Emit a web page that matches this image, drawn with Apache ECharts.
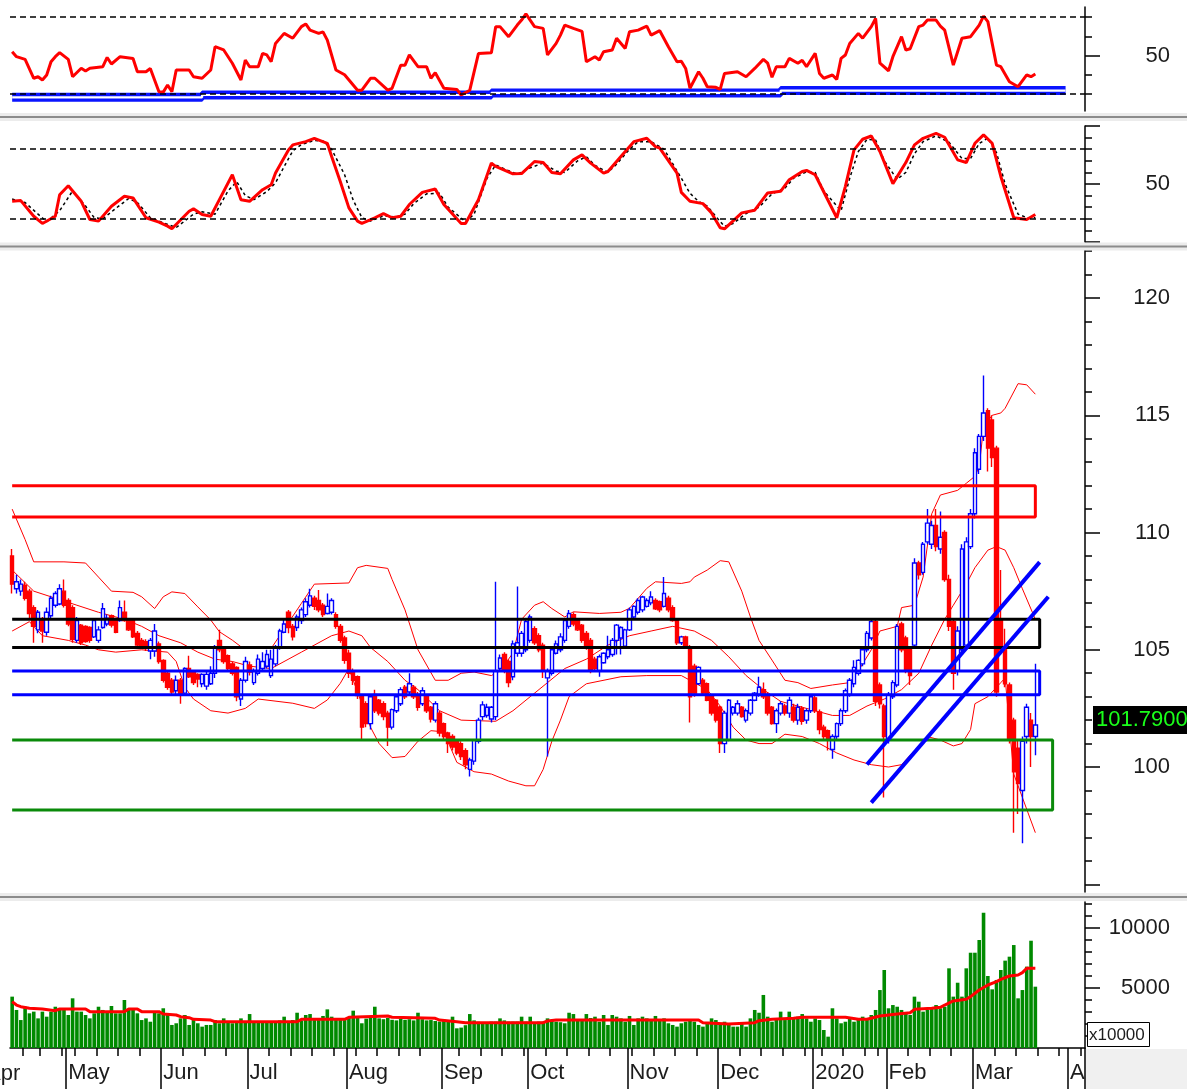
<!DOCTYPE html>
<html><head><meta charset="utf-8">
<script src="https://cdn.jsdelivr.net/npm/echarts@6/dist/echarts.min.js"></script>
<style>html,body{margin:0;padding:0;background:#fff;overflow:hidden}#c{width:1187px;height:1089px}</style>
</head><body><div id="c"></div>
<script>
// ---------- categories (trading days) ----------
const firstDay = '2019-04-10', lastDay = '2020-04-06';
const holidays = ['2019-04-15','2019-04-30','2019-05-01','2019-09-02','2020-01-01','2020-01-23','2020-01-24','2020-01-27','2020-01-28','2020-01-29'];
const monthNames = ['2020','Feb','Mar','Apr','May','Jun','Jul','Aug','Sep','Oct','Nov','Dec'];

// ---------- price candles [open, close, low, high] ----------
const candles = [
[109.0,107.8,107.4,109.3],[107.6,107.9,107.4,108.2],[107.5,107.8,107.3,108.0],[107.75,107.2,107.1,107.9],[107.5,106.55,106.3,107.6],
[106.8,106.0,105.3,106.9],[105.85,106.6,105.7,106.7],[106.3,105.8,105.3,106.4],[105.75,106.6,105.6,106.8],[106.45,107.2,106.3,107.3],
[106.9,107.4,106.8,107.5],[106.95,107.6,106.9,107.8],[107.5,106.9,106.8,108.0],[107.1,106.1,106.0,107.2],[106.8,105.45,105.3,106.9],
[105.4,106.25,105.3,106.4],[106.05,105.3,105.2,106.1],[106.0,105.35,105.3,106.05],[105.95,105.4,105.3,106.0],[105.55,106.25,105.5,106.3],
[105.4,105.85,105.3,106.0],[105.95,106.75,105.9,107.0],[106.1,106.35,106.0,106.5],[106.45,106.05,105.95,106.5],[106.25,105.75,105.7,106.3],
[106.25,106.8,106.2,107.1],[106.6,106.25,106.2,107.1],[106.3,105.85,105.8,106.35],[106.25,105.55,105.5,106.3],[105.7,105.2,105.1,105.8],
[105.4,105.15,105.05,105.5],[105.35,105.15,104.95,105.45],[104.95,105.4,104.6,105.5],[104.95,105.8,104.7,106.1],[105.25,104.5,104.4,105.35],
[104.55,103.7,103.6,104.6],[104.0,103.4,103.3,104.05],[103.7,103.2,103.1,103.8],[103.25,103.7,103.1,103.9],[103.7,103.1,102.7,103.8],
[103.15,104.2,103.1,104.25],[104.2,103.85,103.8,104.75],[104.05,103.6,103.5,104.1],[103.95,103.75,103.4,104.0],[103.55,103.95,103.4,104.0],
[103.45,103.95,103.3,104.1],[103.55,104.0,103.5,104.3],[104.0,105.1,103.8,105.2],[105.4,105.0,104.9,105.85],[105.0,104.5,104.4,105.1],
[104.75,104.2,104.1,104.8],[104.4,104.0,103.9,104.5],[104.25,103.0,102.8,104.3],[102.9,103.7,102.6,103.8],[103.7,104.5,103.6,104.7],
[104.35,104.05,103.9,104.5],[103.6,104.1,103.5,104.2],[104.0,104.6,103.9,104.8],[104.2,104.5,104.1,104.9],[104.3,104.8,104.2,105.0],
[103.9,104.6,103.8,105.0],[104.4,105.1,104.3,105.2],[105.1,105.8,105.0,105.9],[105.75,106.1,105.7,106.3],[106.6,105.95,105.7,106.7],
[106.0,105.55,105.4,106.1],[105.95,106.4,105.8,106.5],[106.25,106.7,106.1,106.8],[106.5,107.05,106.4,107.2],[106.9,107.3,106.8,107.6],
[107.2,106.85,106.7,107.3],[107.1,106.7,106.6,107.55],[106.9,106.5,106.4,107.0],[106.55,106.85,106.5,107.4],[106.6,107.1,106.5,107.2],
[106.5,106.0,105.9,106.6],[106.0,105.4,105.3,106.1],[105.5,104.55,104.4,105.6],[104.85,104.0,103.8,105.0],[104.1,103.7,103.5,104.2],
[103.85,103.05,102.9,103.9],[103.0,101.7,101.15,103.1],[102.7,101.85,101.7,102.8],[101.85,103.0,101.6,103.1],[103.1,102.4,102.3,103.3],
[102.85,102.3,102.2,102.9],[102.7,102.15,102.0,102.8],[102.3,101.7,100.9,102.4],[101.7,102.45,101.6,102.5],[102.4,103.0,102.3,103.1],
[102.7,103.3,102.6,103.4],[103.4,103.0,102.9,103.5],[103.2,103.55,103.1,104.0],[103.4,103.0,102.9,103.5],[103.1,102.55,102.4,103.2],
[102.7,103.25,102.6,103.4],[103.0,102.4,102.3,103.1],[102.55,102.05,101.9,102.6],[102.0,102.7,101.9,102.8],[102.3,101.45,101.3,102.4],
[101.85,101.3,101.2,101.9],[101.45,101.0,100.6,101.5],[101.3,100.85,100.7,101.4],[101.15,100.6,100.5,101.2],[101.0,100.45,100.3,101.1],
[100.7,100.1,99.9,100.8],[99.9,100.3,99.6,100.4],[100.25,101.15,100.1,101.2],[101.1,102.0,101.0,102.1],[102.15,102.65,102.0,102.8],
[102.2,102.55,102.1,102.7],[102.05,102.55,101.9,102.6],[102.15,104.1,102.0,107.9],[104.2,104.65,104.1,104.8],[104.8,104.1,104.0,104.9],
[104.5,103.6,103.4,104.6],[103.85,105.25,103.7,105.4],[104.85,105.3,104.7,107.7],[104.85,105.7,104.7,105.8],[105.0,106.2,104.9,106.3],
[105.4,106.4,105.3,106.5],[105.9,105.3,105.2,106.0],[105.6,105.0,104.9,105.7],[105.2,104.1,103.8,105.3],[103.8,104.1,100.45,104.2],
[104.0,105.0,103.9,105.1],[104.85,105.25,104.8,105.4],[105.0,105.55,104.9,105.7],[105.4,106.25,105.3,106.35],[106.0,106.55,105.9,106.7],
[106.5,106.1,106.0,106.6],[106.25,105.85,105.8,106.3],[106.05,105.4,105.3,106.1],[105.7,105.15,105.0,105.8],[105.4,104.15,104.0,105.5],
[104.6,104.2,104.1,104.7],[104.1,104.7,103.85,104.8],[104.45,104.85,104.4,104.9],[104.7,105.0,104.6,105.6],[104.8,105.4,104.7,105.5],
[105.4,106.05,104.8,106.1],[105.5,105.95,104.8,106.0],[105.15,105.85,105.1,105.9],[105.85,106.7,105.8,106.8],[106.4,106.85,106.3,106.9],
[106.6,107.1,106.5,107.2],[106.7,107.25,106.6,107.3],[106.85,107.1,106.8,107.2],[107.0,107.25,106.9,107.5],[107.1,106.75,106.7,107.2],
[107.05,106.7,106.6,107.1],[106.85,107.4,106.8,108.1],[107.2,106.7,106.6,107.3],[106.8,106.25,106.2,106.9],[106.25,105.3,105.2,106.3],
[105.3,105.55,105.2,105.6],[105.55,105.15,105.1,105.6],[105.1,103.0,101.9,105.2],[104.3,103.15,103.0,104.4],[103.55,104.25,103.5,104.3],
[103.7,103.15,103.1,103.8],[103.55,102.85,102.8,103.6],[103.0,102.3,102.2,103.1],[102.85,102.0,101.9,102.9],[102.55,101.0,100.6,102.6],
[101.0,102.3,100.6,102.4],[101.15,102.85,101.1,102.9],[102.3,102.55,102.2,102.6],[102.3,102.7,102.2,102.85],[102.55,102.15,102.1,102.6],
[102.0,102.4,101.9,102.5],[102.3,102.85,102.2,102.9],[102.85,103.15,102.8,103.2],[103.1,103.4,103.0,103.85],[103.3,103.0,102.9,103.6],
[103.1,102.3,102.2,103.2],[102.55,101.85,101.8,102.6],[101.85,102.4,101.45,102.5],[102.3,102.7,102.2,102.8],[102.6,102.3,102.2,102.7],
[102.3,102.85,102.1,103.0],[102.55,102.0,101.9,102.7],[102.0,102.55,101.8,102.7],[102.5,101.95,101.8,102.6],[102.0,102.4,101.85,102.5],
[102.4,103.0,102.3,103.1],[102.95,102.4,102.3,103.1],[102.35,101.6,101.4,102.45],[101.7,101.3,101.2,101.8],[101.55,101.15,100.7,101.6],
[100.75,101.3,100.35,101.4],[101.3,101.85,101.2,101.9],[101.85,102.4,101.75,102.5],[102.4,103.25,102.3,103.35],[103.1,103.7,103.0,103.8],
[103.55,104.25,103.4,104.55],[104.0,104.55,103.9,104.6],[104.4,105.0,104.3,105.1],[105.0,105.7,104.9,105.8],[105.5,106.2,105.4,106.3],
[106.2,102.8,102.6,106.3],[103.5,102.7,102.5,103.6],[102.6,101.3,98.7,102.7],[101.2,103.1,101.0,103.2],[103.0,103.6,102.9,103.7],
[103.5,106.0,103.4,106.1],[106.1,105.0,104.9,106.2],[105.5,104.1,104.0,105.6],[105.0,103.9,103.5,105.1],[105.2,108.7,105.1,108.9],
[108.7,108.2,108.0,108.8],[108.3,109.5,108.2,109.6],[109.6,110.4,109.5,111.0],[109.5,110.3,109.3,110.5],[110.3,109.4,109.2,111.0],
[109.3,109.8,109.1,110.9],[110.0,108.0,107.9,110.1],[108.0,106.0,105.8,108.2],[106.2,104.0,103.3,106.3],[104.1,105.8,103.9,106.0],
[105.0,109.3,104.9,109.5],[105.2,109.6,105.0,109.8],[109.4,110.8,109.3,111.0],[110.8,113.4,110.6,113.6],[112.7,114.1,112.5,114.2],
[114.1,115.1,113.9,116.7],[115.2,113.6,112.6,115.3],[114.8,113.2,112.8,115.0],[113.6,103.2,103.0,113.7],[106.3,105.0,104.8,108.4],
[105.0,103.55,103.4,105.9],[103.5,101.2,101.0,103.6],[102.0,99.8,97.2,102.1],[100.8,99.3,98.0,101.2],[99.0,101.1,96.75,101.3],
[101.3,102.55,101.0,102.7],[102.0,101.3,100.0,102.3],[101.3,101.79,100.5,104.4]
];
const lastClose = 101.79;

// ---------- Bollinger bands [dayIndex, value] ----------
const bbUpper = [[0,111.0],[3,109.7],[5,108.75],[12,108.75],[17,108.7],[20,108.1],[23,107.5],[28,107.45],[30,107.26],[33,106.76],[35,107.26],[37,107.47],[40,107.4],[43,106.83],[46,106.27],[48,105.77],[51,105.41],[53,105.13],[60,105.06],[67,106.98],[70,107.8],[78,107.85],[80,108.5],[82,108.6],[87,108.47],[88,108.0],[91,106.7],[94,105.0],[98,103.7],[101,103.7],[104,104.0],[107,104.05],[111,103.9],[113,104.1],[116,104.86],[118,106.3],[121,106.9],[123,107.05],[125,106.76],[128,106.4],[130,106.62],[136,106.55],[141,106.6],[143,106.77],[147,107.62],[149,107.9],[155,107.83],[157,107.9],[158,108.1],[161,108.4],[164,108.8],[166,108.75],[169,107.5],[171,106.4],[173,105.4],[176,104.56],[179,103.7],[182,103.6],[185,103.35],[190,103.5],[194,103.6],[196,104.1],[199,105.0],[201,105.8],[205,106.0],[206,106.8],[209,106.9],[211,108.1],[213,110.8],[215,111.6],[219,111.8],[221,112.1],[223,112.4],[224,112.8],[225,114.5],[227,115.0],[229,115.1],[230,115.3],[233,116.35],[235,116.3],[237,115.9]];
const bbMiddle = [[0,108.4],[5,107.5],[10,107.2],[15,106.9],[20,106.6],[26,106.3],[30,106.0],[34,105.6],[39,105.3],[43,104.9],[47,104.6],[51,104.5],[55,104.3],[60,104.2],[67,104.9],[74,105.6],[78,105.8],[81,105.6],[83,105.1],[87,104.5],[91,103.7],[94,103.3],[99,102.4],[104,102.0],[112,101.95],[116,102.4],[120,103.0],[124,103.6],[128,104.2],[133,104.6],[138,105.2],[143,105.6],[148,105.8],[153,106.0],[158,105.8],[162,105.4],[166,104.7],[170,103.9],[174,103.3],[178,102.8],[182,102.6],[186,102.4],[190,102.2],[194,102.2],[198,102.6],[202,102.9],[206,103.3],[210,104.0],[213,105.2],[216,106.3],[218,106.9],[221,107.8],[223,108.5],[226,109.25],[228,109.4],[230,109.25],[232,108.5],[234,107.6],[237,106.3]];
const bbLower = [[0,105.8],[4,106.2],[7,105.6],[13,105.4],[17,105.2],[20,105.0],[24,104.9],[30,105.0],[36,104.9],[38,104.5],[40,103.4],[42,102.9],[46,102.4],[50,102.3],[54,102.5],[57,102.9],[65,102.72],[70,102.5],[73,102.86],[76,103.57],[78,104.2],[80,103.2],[83,101.7],[85,101.0],[88,100.4],[91,100.45],[94,101.1],[97,101.55],[100,101.5],[103,100.2],[107,99.8],[111,99.7],[115,99.4],[119,99.2],[121,99.2],[123,99.9],[125,101.1],[127,102.0],[129,103.0],[133,103.55],[141,103.85],[147,103.9],[155,103.9],[158,103.6],[161,103.3],[164,102.6],[167,101.7],[170,101.15],[173,101.0],[176,101.0],[179,101.4],[183,101.3],[187,101.0],[191,100.6],[195,100.3],[199,100.1],[203,100.0],[206,100.1],[209,100.7],[212,101.3],[215,101.15],[218,100.9],[220,101.0],[222,101.6],[223,102.7],[226,103.0],[229,103.6],[230,103.8],[232,99.7],[237,97.2]];

// ---------- zones and trend lines (price panel) ----------
const zoneTop    = [112.0, 106.3, 104.1, 101.15];
const zoneBottom = [110.66, 105.1, 103.08, 98.17];
const zoneEnd    = [237, 238, 238, 241];
const trendA = [[198,100.11],[238,108.74]];
const trendB = [[199,98.48],[240,107.26]];

// ---------- RSI panel ----------
const rsi = [[0,52],[1,49.4],[3,48],[5,38.2],[6,39],[7,37.3],[8,39.9],[9,46.8],[10,49.4],[11,51.5],[13,48],[14,39],[16,43.4],[17,42],[18,43.4],[21,44.2],[22,49],[23,45.6],[25,49.4],[28,48.5],[29,41.6],[31,41.6],[32,43.3],[34,31.2],[35,31],[36,34.7],[37,31.2],[38,42.5],[41,42.5],[42,39],[44,38.2],[46,42.5],[47,54.6],[49,52.9],[51,46],[53,37.3],[54,47.7],[55,44.2],[57,44.2],[58,51.1],[59,50.3],[60,46.8],[61,56.3],[63,61.5],[65,59],[67,65],[68,66.4],[69,63.2],[71,61.5],[72,62.3],[73,58],[75,42.5],[77,40],[80,32],[81,32],[83,38.2],[84,38.2],[87,32],[88,33],[90,45],[91,45],[92,50.3],[94,44.2],[96,44.2],[97,38.2],[98,41.1],[100,33],[103,32.4],[104,29.5],[106,32],[108,51],[111,51.5],[112,65],[113,65],[115,59.8],[117,65.8],[118,68.4],[119,71.6],[121,65],[123,64.1],[124,50.3],[126,56.3],[127,60.6],[128,65.8],[130,64.1],[132,62.5],[133,46.8],[135,49.4],[136,47.7],[137,52],[139,52.9],[140,59],[142,53.7],[143,62.4],[145,63.2],[147,65.3],[148,60.6],[150,62.9],[152,54.6],[154,46.8],[155,47],[156,43.3],[157,33],[159,41.6],[160,38.2],[161,33.8],[163,33.5],[164,32.4],[165,40.7],[168,41.6],[170,39],[172,43.3],[174,48],[175,46],[176,38.7],[177,44.2],[179,44.2],[180,48.5],[182,46],[183,47.5],[184,44.2],[186,51.1],[187,40.7],[188,38.2],[190,39.9],[191,37.6],[192,48.5],[193,50.3],[194,56.3],[196,61.5],[197,59],[199,65],[200,69.3],[201,46],[203,42.1],[204,49.4],[206,59.8],[207,52.9],[208,53.5],[210,65],[211,65.8],[212,68.4],[214,68.4],[215,65.3],[216,63.2],[218,45],[219,52],[220,59],[222,59.8],[224,65.8],[225,70.5],[226,67.6],[228,45],[229,44.2],[231,36.4],[233,33.8],[235,39.9],[236,39],[237,40.4]];
const rsiChannel = [[0,28.3],[44,28.3],[44,29.5],[111,29.5],[111,30.6],[178,30.6],[178,31.8],[244,31.8]];
const rsiLevels = [70, 30];

// ---------- Stochastic panel ----------
const stochK = [[0,35.1],[2,35.7],[5,22.2],[7,16],[10,22.2],[11,40.8],[13,48.5],[16,35.1],[18,19.4],[20,18],[23,30.8],[26,39.4],[28,38],[31,20.9],[34,17.1],[36,13.7],[37,11.4],[41,26.5],[42,28.6],[44,23.7],[46,22.2],[48,36.5],[51,58],[53,36.5],[55,35.1],[58,45.1],[60,49.4],[61,59.4],[64,79.4],[65,83.7],[68,86.5],[70,89.4],[73,85.1],[74,73.7],[76,52.2],[78,29.4],[80,18],[81,16],[84,20.9],[86,24.5],[88,20.9],[90,22.2],[92,32.3],[95,42.8],[98,45.7],[100,32.3],[104,16],[105,16],[108,36.5],[111,68],[112,65.1],[116,58.8],[118,59],[121,69.4],[123,68.5],[125,59.9],[127,58.8],[130,70.8],[132,75.1],[134,68],[137,59.4],[138,60.8],[141,73.7],[144,86.5],[147,89.4],[149,82.2],[150,80.9],[154,59.4],[155,42.8],[157,35.1],[160,33.1],[162,25.1],[164,12.3],[165,11.4],[169,25.1],[172,27.4],[175,42.3],[178,43.7],[180,53.7],[183,60.8],[184,61.7],[186,58],[191,20.9],[193,48],[195,79.4],[197,88.6],[199,91.4],[201,78],[204,50.3],[207,68.5],[209,83.7],[211,89.4],[214,93.7],[216,90.3],[219,70.8],[221,68.5],[223,85.1],[225,92.3],[227,85.1],[229,56.5],[232,20.9],[235,19.4],[237,23.7]];
const stochD = [[0,37],[3,34],[6,24],[8,17.5],[11,27],[14,44],[17,31],[19,21],[21,20],[24,29],[27,37.5],[29,34],[32,21],[35,16.5],[38,12.5],[42,24],[44,26],[47,24],[50,44],[52,52],[54,40],[56,36.5],[59,43.5],[61,51],[63,65],[65,78.5],[67,84],[70,87.5],[72,87],[74,80],[77,58],[79,36],[81,21],[83,18],[86,22.5],[89,21.5],[91,24],[93,33],[96,41.5],[99,42],[101,30],[105,17.5],[107,24],[110,55],[112,66.5],[114,63],[117,58.5],[120,64],[123,68],[126,61],[128,60],[131,70],[133,73.5],[135,66],[138,60],[140,67],[143,80],[145,86.5],[148,86.5],[151,80],[155,55],[157,42],[159,35],[161,31],[163,22],[165,13.5],[167,16],[170,24.5],[173,30],[176,41.5],[179,46.5],[181,55],[184,60.5],[186,60],[188,44],[192,27],[194,55],[196,78],[198,88.5],[200,88],[202,70],[205,54],[207,60],[209,76],[211,86.5],[214,91.5],[217,86],[220,72],[222,72],[224,85],[226,89.5],[228,77],[230,50],[233,24],[235,21],[237,21]];
const stochLevels = [80, 20];

// ---------- Volume panel ----------
const volume = [
4280,3170,2330,3440,2890,3030,2470,3030,2610,3030, 3440,3170,3170,2750,4140,3030,3030,2750,2470,2890,
3440,3170,3030,3500,2890,2890,4000,3170,3310,2890, 2330,2470,2190,3030,2890,3310,2750,1920,2060,2470,
2750,1920,2330,2060,1780,1920,1920,2330,2060,2470, 2190,2060,2190,2470,2190,2830,2190,2200,2100,2250,
2200,2150,2300,2610,2200,2330,2940,2300,2750,2830, 2400,2500,2670,3220,2610,2450,2500,2400,2500,3110,
2500,2060,2450,2500,3440,2470,2400,2500,2350,2300, 2450,2350,2400,2300,2940,2400,2300,2330,2250,2200,
2350,2300,2610,1640,1700,1900,2830,2300,2190,2150, 2150,2200,2200,2470,2300,2200,2200,2200,2610,2200,
2610,2150,2200,2200,2470,2250,2200,2150,2060,2940, 2830,2300,2400,2830,2500,2610,2190,2750,1920,2750,
2610,2470,2190,2670,1920,2470,2610,2470,2330,2670, 2330,2470,2060,1920,1780,2060,2190,2330,2190,1920,
1780,2060,2470,2330,2060,2190,1920,1780,1780,2060, 1780,2470,3170,2940,4420,2610,2190,2470,3030,2330,
3030,2470,2610,2830,2470,2190,2470,2330,1500,945, 3310,2470,2060,2190,2470,2190,2470,2610,2330,2750,
3170,4830,6500,3310,3580,3440,3170,2890,2750,4280, 3860,3030,3170,3310,3580,3310,3440,6640,4280,5440,
4280,6640,7940,7940,9000,11280,6000,4890,5670,6500, 7280,7610,8580,4140,4830,6780,8940,5110
];
const volumeMA = [[0,3860],[1,3580],[2,3440],[4,3310],[7,3250],[10,3110],[11,3250],[17,3250],[18,3030],[26,3030],[27,3250],[29,3250],[30,3030],[34,3030],[35,2830],[38,2750],[39,2610],[41,2530],[42,2390],[46,2330],[47,2190],[66,2190],[67,2390],[77,2390],[78,2560],[87,2670],[88,2560],[98,2470],[99,2330],[103,2190],[105,2110],[123,2110],[124,2250],[126,2330],[159,2330],[160,2110],[166,2000],[172,2110],[173,2280],[176,2390],[181,2470],[183,2560],[193,2560],[196,2390],[198,2390],[201,2670],[205,2830],[208,2940],[209,3220],[213,3310],[215,3390],[216,3580],[218,3920],[221,4060],[222,4280],[224,4830],[226,5250],[228,5530],[229,5720],[231,6000],[233,6080],[234,6280],[235,6640],[237,6640]];

// ---------- axis tick values ----------
const rsiMajor = [50], rsiMinor = [30,40,60,70];
const stochMajor = [0,50,100], stochLabels = [50], stochMinor = [10,20,30,40,60,70,80,90];
const priceMajor = [95,100,105,110,115,120], priceLabels = [100,105,110,115,120];
const priceMinor = [96,97,98,99,101,102,103,104,106,107,108,109,111,112,113,114,116,117,118,119,121,122];
const volMajor = [5000,10000], volMinor = [1000,2000,3000,4000,6000,7000,8000,9000,11000,12000];

// ---------- build trading-day categories ----------
const hol = new Set(holidays);
const days = [];
for (let t = Date.parse(firstDay + 'T00:00:00Z'); t <= Date.parse(lastDay + 'T00:00:00Z'); t += 86400000) {
  const d = new Date(t), wd = d.getUTCDay(), s = d.toISOString().slice(0, 10);
  if (wd !== 0 && wd !== 6 && !hol.has(s)) days.push(s);
}
const weekNo = s => Math.floor((Date.parse(s + 'T00:00:00Z') / 86400000 + 3) / 7);
const monthStart = days.map((s, i) => i > 0 && s.slice(0, 7) !== days[i - 1].slice(0, 7));
const weekStart = days.map((s, i) => i > 0 && weekNo(s) !== weekNo(days[i - 1]));

const FONT = '"Liberation Sans", Arial, sans-serif';
const FS = 22;
const TXT = '#1c1c1c';
const L = 10, R = 102;
const grids = [
  {left: L, right: R, top: 7, height: 104},
  {left: L, right: R, top: 126, height: 116},
  {left: L, right: R, top: 250, height: 642},
  {left: L, right: R, top: 902, height: 146}
];
function yPair(g, min, max, major, labels, minor, padTop) {
  return [
    {gridIndex: g, type: 'value', position: 'right', min: min, max: max,
     axisLine: {show: true, lineStyle: {color: '#000', width: 1.5}},
     axisTick: {show: true, length: 15, customValues: major, lineStyle: {color: '#000', width: 1.5}},
     axisLabel: {show: true, customValues: labels, align: 'right', margin: 85, fontSize: FS, color: TXT, fontFamily: FONT,
       padding: [padTop || 0, 0, 0, 0], formatter: v => String(v)},
     splitLine: {show: false}},
    {gridIndex: g, type: 'value', position: 'right', min: min, max: max,
     axisLine: {show: false},
     axisTick: {show: true, length: 7, customValues: minor, lineStyle: {color: '#000', width: 1.5}},
     axisLabel: {show: false}, splitLine: {show: false}}
  ];
}
const hiddenX = g => ({gridIndex: g, type: 'category', data: days, boundaryGap: true, show: false});
const lineS = (x, y, data, color, width, extra) => Object.assign({
  type: 'line', xAxisIndex: x, yAxisIndex: y, data: data, showSymbol: false, symbol: 'none', silent: true,
  lineStyle: {color: color, width: width}, z: 2
}, extra || {});
const dashMark = levels => ({silent: true, symbol: 'none', label: {show: false},
  lineStyle: {color: '#000', type: [6, 4], width: 1.6},
  data: levels.map(v => ({yAxis: v}))});

const series = [];
// RSI
series.push(lineS(0, 0, rsiChannel, '#0a14ff', 9));
series.push(lineS(0, 0, rsiChannel, '#ffffff', 2.2, {markLine: dashMark(rsiLevels)}));
series.push(lineS(0, 0, rsi, '#ff0000', 3));
// Stochastic
series.push(lineS(1, 2, stochD, '#000', 1.5, {lineStyle: {color: '#000', width: 1.5, type: [3, 3]}, markLine: dashMark(stochLevels)}));
series.push(lineS(1, 2, stochK, '#ff0000', 3));
// Price
series.push(lineS(2, 4, bbUpper, '#ff0000', 1));
series.push(lineS(2, 4, bbMiddle, '#ff0000', 1));
series.push(lineS(2, 4, bbLower, '#ff0000', 1));
series.push({type: 'candlestick', xAxisIndex: 2, yAxisIndex: 4, data: candles, barWidth: 4, silent: true,
  itemStyle: {color: '#ffffff', color0: '#ff0000', borderColor: '#0000ff', borderColor0: '#ff0000', borderWidth: 1.4}});
const zoneColors = ['#ff0000', '#000000', '#0000ff', '#0a8a0a'];
zoneTop.forEach((t, k) => {
  const b = zoneBottom[k], e = zoneEnd[k];
  series.push(lineS(2, 4, [[0, t], [e, t], [e, b], [0, b]], zoneColors[k], 3, {z: 3}));
});
series.push(lineS(2, 4, trendA, '#0000ff', 4, {z: 4}));
series.push(lineS(2, 4, trendB, '#0000ff', 4, {z: 4}));
// Volume
series.push({type: 'bar', xAxisIndex: 3, yAxisIndex: 6, data: volume, barWidth: 3.6, silent: true, itemStyle: {color: '#008a00'}});
series.push(lineS(3, 6, volumeMA, '#ff0000', 3, {z: 3}));

const option = {
  animation: false,
  backgroundColor: '#ffffff',
  textStyle: {fontFamily: FONT},
  grid: grids,
  xAxis: [hiddenX(0), hiddenX(1), hiddenX(2),
    {gridIndex: 3, type: 'category', data: days, boundaryGap: true, position: 'bottom',
     axisLine: {show: true, lineStyle: {color: '#000', width: 1.5}},
     axisTick: {show: true, length: 41, interval: i => monthStart[i], lineStyle: {color: '#000', width: 1.5}},
     axisLabel: {show: true, interval: i => monthStart[i], align: 'left', margin: 14, fontSize: FS, color: TXT, fontFamily: FONT,
       formatter: v => { const m = +v.slice(5, 7); return monthNames[m - 1]; }},
     splitLine: {show: false}},
    {gridIndex: 3, type: 'category', data: days, boundaryGap: true, position: 'bottom',
     axisLine: {show: false},
     axisTick: {show: true, length: 8, interval: i => weekStart[i], lineStyle: {color: '#000', width: 1.5}},
     axisLabel: {show: false}, splitLine: {show: false}}
  ],
  yAxis: [].concat(
    yPair(0, 21.2, 75.2, rsiMajor, rsiMajor, rsiMinor, 8),
    yPair(1, 0, 100, stochMajor, stochLabels, stochMinor, 6),
    yPair(2, 94.67, 122.05, priceMajor, priceLabels, priceMinor, 2),
    yPair(3, 0, 12167, volMajor, volMajor, volMinor, 2)
  ),
  series: series
};

const chart = echarts.init(document.getElementById('c'), null, {renderer: 'canvas'});
chart.setOption(option);

// panel separators and overlays
function sep(y, id) {
  return [
    {id: id + 'a', type: 'rect', shape: {x: 0, y: y - 4, width: 1187, height: 8}, style: {fill: '#ececec'}, z: 100},
    {id: id + 'b', type: 'line', shape: {x1: 0, y1: y, x2: 1187, y2: y}, style: {stroke: '#8c8c8c', lineWidth: 2}, z: 101}
  ];
}
const lastY = chart.convertToPixel({yAxisIndex: 4}, lastClose);
const graphics = [].concat(
  sep(117, 's1'), sep(246.5, 's2'), sep(897, 's3'),
  [
    {id: 'aprL', type: 'text', x: -14, y: 1063, style: {text: 'Apr', font: FS + 'px "Liberation Sans"', fill: TXT}, z: 50},
    {id: 'grayBR', type: 'rect', shape: {x: 1086, y: 1049, width: 101, height: 40}, style: {fill: '#f0f0f0'}, z: 60},
    {id: 'xbox', type: 'rect', shape: {x: 1087.5, y: 1022.5, width: 62, height: 24}, style: {fill: '#fff', stroke: '#000', lineWidth: 1}, z: 61},
    {id: 'xtxt', type: 'text', x: 1089, y: 1035, style: {text: 'x10000', font: '17px "Liberation Sans"', fill: TXT, verticalAlign: 'middle'}, z: 62},
    {id: 'pbox', type: 'rect', shape: {x: 1093, y: lastY - 19, width: 94, height: 28}, style: {fill: '#000'}, z: 61},
    {id: 'ptxt', type: 'text', x: 1096, y: lastY - 5, style: {text: lastClose.toFixed(4), font: '22px "Liberation Sans"', fill: '#1aff1a', verticalAlign: 'middle'}, z: 62}
  ]
);
chart.setOption({graphic: graphics});
</script></body></html>
